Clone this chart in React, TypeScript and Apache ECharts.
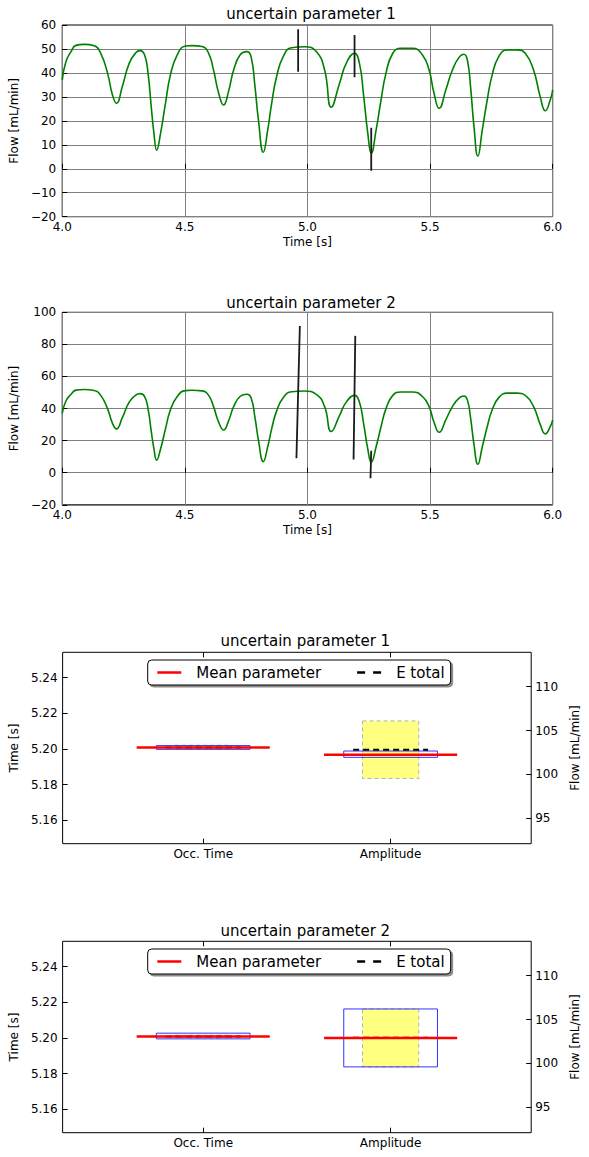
import React, { useEffect, useRef } from "react";
import * as echarts from "echarts";

const FONT = "DejaVu Sans";

// ---- Top two panels: flow waveform (time [s], flow [mL/min]) ----
const timeSamples = [
  4.0, 4.015, 4.036, 4.056, 4.09, 4.13, 4.157, 4.185, 4.205, 4.221, 4.245, 4.273, 4.3, 4.317,
  4.336, 4.35, 4.363, 4.374, 4.385, 4.401, 4.421, 4.441, 4.469, 4.502, 4.529, 4.57, 4.597,
  4.617, 4.638, 4.658, 4.678, 4.699, 4.725, 4.753, 4.77, 4.786, 4.8, 4.82, 4.838, 4.854, 4.874,
  4.901, 4.935, 4.989, 5.036, 5.07, 5.097, 5.131, 5.158, 5.192, 5.212, 5.228, 5.246, 5.26,
  5.28, 5.3, 5.32, 5.348, 5.381, 5.429, 5.469, 5.496, 5.516, 5.537, 5.564, 5.591, 5.618, 5.638,
  5.652, 5.665, 5.679, 5.695, 5.713, 5.733, 5.753, 5.78, 5.814, 5.855, 5.888, 5.922, 5.949,
  5.97, 5.99, 6.0,
];
const flowSamples = [
  37.0, 44.7, 48.9, 51.5, 51.9, 51.3, 48.2, 39.8, 30.8, 27.3, 34.3, 44.0, 48.4, 49.3,
  47.5, 39.8, 25.9, 14.8, 7.8, 14.8, 27.3, 39.1, 47.5, 51.2, 51.4, 51.0, 48.2,
  41.2, 31.5, 26.6, 32.2, 41.2, 47.5, 48.9, 46.8, 34.3, 20.4, 6.9, 16.2, 27.3, 38.4,
  46.8, 50.5, 50.9, 48.9, 41.2, 25.7, 35.7, 44.0, 48.2, 44.0, 31.5, 14.8, 6.5,
  16.2, 28.7, 39.8, 48.2, 50.3, 50.3, 47.5, 41.2, 31.5, 25.2, 32.9, 41.2, 46.5, 47.8,
  45.4, 34.3, 17.6, 5.3, 16.2, 28.7, 39.1, 46.8, 49.6, 49.6, 48.2, 41.2, 30.1,
  24.2, 28.7, 32.9,
];

// vertical spikes (start/end time and flow)
const spikeTimes1 = [[4.962, 4.962], [5.192, 5.192], [5.26, 5.26]];
const spikeFlows1 = [[58.2, 40.5], [55.8, 38.2], [17.1, -0.8]];
const spikeTimes2 = [[4.969, 4.955], [5.195, 5.188], [5.26, 5.257]];
const spikeFlows2 = [[91.5, 9.0], [85.3, 8.3], [13.7, -3.5]];

// ---- Bottom two panels: [Occ. Time (s), Amplitude (mL/min)] ----
const categories = ["Occ. Time", "Amplitude"];
const timeTicks = [5.16, 5.18, 5.2, 5.22, 5.24];
const flowTicks = [95, 100, 105, 110];

const meanParam1 = [5.2008, 102.24];
const eTotal1 = [5.2009, 102.81];
const boxLow1 = [5.1998, 101.95];
const boxHigh1 = [5.2019, 102.67];
const yellowLow1 = [5.1999, 99.54];
const yellowHigh1 = [5.2021, 106.1];

const meanParam2 = [5.2008, 102.9];
const eTotal2 = [5.2009, 102.93];
const boxLow2 = [5.1995, 99.61];
const boxHigh2 = [5.2027, 106.21];
const yellowLow2 = [5.2001, 99.61];
const yellowHigh2 = [5.2015, 106.21];

const txt = { fontFamily: FONT, color: "#000" };
const minus = (v: number) => String(v).replace("-", "\u2212");

function flowPanel(gridIdx: number, spikeT: number[][], spikeF: number[][]) {
  const series: any[] = [
    {
      type: "line",
      xAxisIndex: gridIdx,
      yAxisIndex: gridIdx,
      data: timeSamples.map((t, i) => [t, flowSamples[i]]),
      smooth: 0.5,
      symbol: "none",
      lineStyle: { color: "#008000", width: 1.6 },
      z: 3,
    },
  ];
  spikeT.forEach((ts, i) => {
    series.push({
      type: "line",
      xAxisIndex: gridIdx,
      yAxisIndex: gridIdx,
      data: [[ts[0], spikeF[i][0]], [ts[1], spikeF[i][1]]],
      symbol: "none",
      lineStyle: { color: "#1a1a1a", width: 1.8 },
      z: 4,
    });
  });
  return series;
}

const HALF_RED = 0.355;
const HALF_BLUE = 0.25;
const HALF_YELLOW = 0.15;
const HALF_DASH = 0.2;

function rectSeries(xIdx: number, yIdx: number, x: number, lo: number, hi: number, half: number, style: any, z: number) {
  return {
    type: "custom",
    xAxisIndex: xIdx,
    yAxisIndex: yIdx,
    z,
    data: [[x, lo, hi]],
    encode: { x: 0, y: [1, 2] },
    renderItem: (params: any, api: any) => {
      const cx = api.value(0);
      const p1 = api.coord([cx - half, api.value(2)]);
      const p2 = api.coord([cx + half, api.value(1)]);
      return {
        type: "rect",
        shape: { x: p1[0], y: p1[1], width: p2[0] - p1[0], height: p2[1] - p1[1] },
        style,
      };
    },
  };
}

function boxPanel(
  xIdx: number,
  tIdx: number,
  fIdx: number,
  mean: number[],
  eTot: number[],
  bLo: number[],
  bHi: number[],
  yLo: number[],
  yHi: number[]
) {
  const series: any[] = [];
  categories.forEach((_, i) => {
    const yIdx = i === 0 ? tIdx : fIdx;
    const x = i + 1;
    series.push(
      rectSeries(xIdx, yIdx, x, yLo[i], yHi[i], HALF_YELLOW, {
        fill: "#ffff80",
        stroke: "#b4b4b4",
        lineWidth: 1,
        lineDash: [4, 3],
      }, 1)
    );
    series.push(
      rectSeries(xIdx, yIdx, x, bLo[i], bHi[i], HALF_BLUE, {
        fill: "none",
        stroke: "#3333ff",
        lineWidth: 1,
      }, 2)
    );
    series.push({
      name: "E total",
      type: "line",
      xAxisIndex: xIdx,
      yAxisIndex: yIdx,
      data: [[x - HALF_DASH, eTot[i]], [x + HALF_DASH, eTot[i]]],
      symbol: "none",
      itemStyle: { color: "#000" },
      lineStyle: { color: "#000", width: 2, type: [6, 4] },
      z: 3,
    });
    series.push({
      name: "Mean parameter",
      type: "line",
      xAxisIndex: xIdx,
      yAxisIndex: yIdx,
      data: [[x - HALF_RED, mean[i]], [x + HALF_RED, mean[i]]],
      symbol: "none",
      itemStyle: { color: "#ff0000" },
      lineStyle: { color: "#ff0000", width: 2.5 },
      z: 4,
    });
  });
  return series;
}

function flowXAxis(gridIndex: number) {
  return {
    gridIndex,
    type: "value",
    min: 4,
    max: 6,
    interval: 0.5,
    axisLine: { show: false },
    axisTick: { inside: true, length: 5, lineStyle: { color: "#000" } },
    axisLabel: { ...txt, fontSize: 12, margin: 4, formatter: (v: number) => v.toFixed(1) },
    splitLine: { show: true, lineStyle: { color: "#808080", width: 1 } },
    name: "Time [s]",
    nameLocation: "middle",
    nameGap: 19,
    nameTextStyle: { ...txt, fontSize: 12 },
  };
}

function flowYAxis(gridIndex: number, min: number, max: number, interval: number) {
  return {
    gridIndex,
    type: "value",
    min,
    max,
    interval,
    axisLine: { show: false },
    axisTick: { inside: true, length: 5, lineStyle: { color: "#000" } },
    axisLabel: { ...txt, fontSize: 12, margin: 6, formatter: (v: number) => minus(v) },
    splitLine: { show: true, lineStyle: { color: "#808080", width: 1 } },
    name: "Flow [mL/min]",
    nameLocation: "middle",
    nameGap: 32,
    nameTextStyle: { ...txt, fontSize: 12 },
  };
}

function boxXAxes(gridIndex: number) {
  const base = {
    gridIndex,
    type: "value",
    min: 0.25,
    max: 2.75,
    axisLine: { show: false },
    splitLine: { show: false },
  };
  return [
    {
      ...base,
      position: "bottom",
      axisTick: { inside: true, length: 5, customValues: [1, 2], lineStyle: { color: "#000" } },
      axisLabel: {
        ...txt,
        fontSize: 12,
        margin: 4,
        customValues: [1, 2],
        formatter: (v: number) => categories[Math.round(v) - 1] || "",
      },
    },
    {
      ...base,
      position: "top",
      axisTick: { inside: true, length: 5, customValues: [1, 2], lineStyle: { color: "#000" } },
      axisLabel: { show: false },
    },
  ];
}

function boxYAxes(gridIndex: number) {
  return [
    {
      gridIndex,
      type: "value",
      position: "left",
      min: 5.1469,
      max: 5.2542,
      axisLine: { show: false },
      splitLine: { show: false },
      axisTick: { inside: true, length: 5, customValues: timeTicks, lineStyle: { color: "#000" } },
      axisLabel: {
        ...txt,
        fontSize: 12,
        margin: 5,
        customValues: timeTicks,
        formatter: (v: number) => v.toFixed(2),
      },
      name: "Time [s]",
      nameLocation: "middle",
      nameGap: 39,
      nameTextStyle: { ...txt, fontSize: 12 },
    },
    {
      gridIndex,
      type: "value",
      position: "right",
      min: 92.11,
      max: 113.92,
      axisLine: { show: false },
      splitLine: { show: false },
      axisTick: { inside: true, length: 5, customValues: flowTicks, lineStyle: { color: "#000" } },
      axisLabel: {
        ...txt,
        fontSize: 12,
        margin: 4,
        customValues: flowTicks,
        formatter: (v: number) => String(v),
      },
      name: "Flow [mL/min]",
      nameLocation: "middle",
      nameGap: 34,
      nameTextStyle: { ...txt, fontSize: 12 },
    },
  ];
}

function legendAt(top: number) {
  return {
    left: 147.7,
    top,
    orient: "horizontal",
    data: [
      { name: "Mean parameter", icon: "path://M0,0H24V2.5H0Z", itemStyle: { color: "#ff0000" } },
      { name: "E total", icon: "path://M0,0H8V2.5H0Z M16,0H24V2.5H16Z", itemStyle: { color: "#000" } },
    ],
    selectedMode: false,
    itemWidth: 24,
    itemHeight: 2.5,
    itemGap: 36,
    padding: [5, 6, 5, 9.6],
    borderColor: "#000",
    borderWidth: 1,
    borderRadius: 4,
    backgroundColor: "#fff",
    shadowColor: "rgba(0,0,0,0.45)",
    shadowBlur: 0,
    shadowOffsetX: 2,
    shadowOffsetY: 2,
    textStyle: { ...txt, fontSize: 15, padding: [0, 0, 0, 10] },
  };
}

const gridBase = { show: true, borderColor: "#000", borderWidth: 1, backgroundColor: "transparent", containLabel: false };
const titleStyle = { ...txt, fontSize: 15, fontWeight: "normal" };

export default function App() {
  const ref = useRef<HTMLDivElement>(null);
  useEffect(() => {
    if (!ref.current) return;
    const chart = echarts.init(ref.current, null, { renderer: "svg" });
    const option: any = {
      animation: false,
      backgroundColor: "#fff",
      textStyle: { fontFamily: FONT },
      title: [
        { text: "uncertain parameter 1", left: 306, top: 1, textAlign: "center", textStyle: titleStyle },
        { text: "uncertain parameter 2", left: 306, top: 290, textAlign: "center", textStyle: titleStyle },
        { text: "uncertain parameter 1", left: 300.3, top: 628, textAlign: "center", textStyle: titleStyle },
        { text: "uncertain parameter 2", left: 300.3, top: 918, textAlign: "center", textStyle: titleStyle },
      ],
      legend: [legendAt(660), legendAt(949)],
      grid: [
        { ...gridBase, left: 59.3, width: 493.4, top: 25, height: 191.7 },
        { ...gridBase, left: 59.3, width: 493.4, top: 312.3, height: 192.5 },
        { ...gridBase, left: 53.3, width: 494, top: 652.3, height: 191.4 },
        { ...gridBase, left: 53.3, width: 494, top: 941.3, height: 191.4 },
      ],
      xAxis: [flowXAxis(0), flowXAxis(1), ...boxXAxes(2), ...boxXAxes(3)],
      yAxis: [
        flowYAxis(0, -20, 60, 10),
        flowYAxis(1, -20, 100, 20),
        ...boxYAxes(2),
        ...boxYAxes(3),
      ],
      series: [
        ...flowPanel(0, spikeTimes1, spikeFlows1),
        ...flowPanel(1, spikeTimes2, spikeFlows2),
        ...boxPanel(2, 2, 3, meanParam1, eTotal1, boxLow1, boxHigh1, yellowLow1, yellowHigh1),
        ...boxPanel(4, 4, 5, meanParam2, eTotal2, boxLow2, boxHigh2, yellowLow2, yellowHigh2),
      ],
    };
    chart.setOption(option);
    return () => chart.dispose();
  }, []);
  return (
    <div
      ref={ref}
      style={{ position: "absolute", left: 0, top: 0, width: 589, height: 1157, background: "#fff" }}
    />
  );
}
